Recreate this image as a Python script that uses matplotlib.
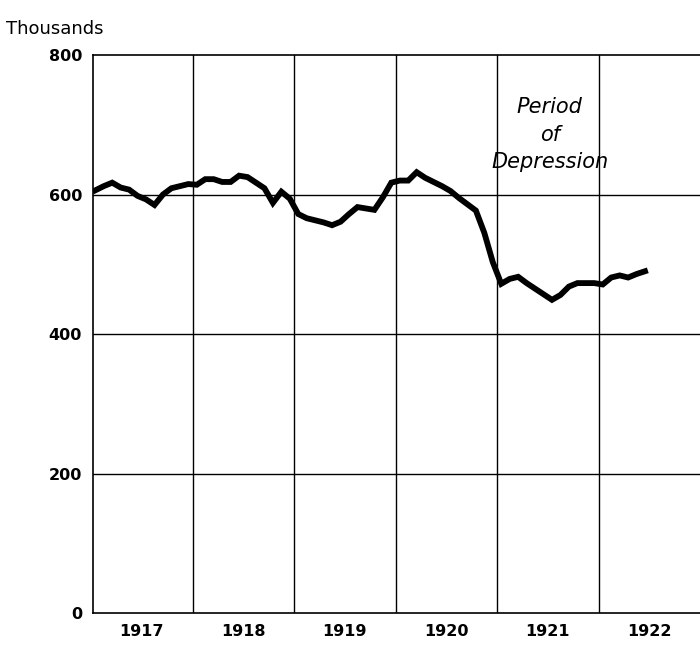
import matplotlib.pyplot as plt

# monthly values, Jan 1917 - Jun 1922 (thousands)
values = [606, 612, 617, 610, 607, 598, 593, 585, 600, 609, 612, 615,
          614, 622, 622, 618, 618, 627, 625, 617, 609, 588, 604, 594,
          572, 566, 563, 560, 556, 561, 572, 582, 580, 578, 596, 617,
          620, 620, 632, 624, 618, 612, 605, 595, 586, 577, 545, 503,
          472, 479, 482, 473, 465, 457, 449, 456, 468, 473, 473, 473,
          471, 481, 484, 481, 486, 490]
years = [1917, 1918, 1919, 1920, 1921, 1922]
yticks = [0, 200, 400, 600, 800]

t = [1917 + (i + 0.5) / 12 for i in range(len(values))]

fig = plt.figure(figsize=(7, 6.45), dpi=100)
ax = fig.add_axes([0.133, 0.0496, 0.867, 0.8651])

ax.plot(t, values, color='black', lw=4.2, solid_joinstyle='miter')

ax.set_xlim(1917.02, 1923.0)
ax.set_ylim(0, 800)
for y in yticks[1:4]:
    ax.axhline(y, color='black', lw=1)
for yr in years[1:]:
    ax.axvline(yr, color='black', lw=1)

ax.spines['right'].set_visible(False)
for s in ['left', 'bottom', 'top']:
    ax.spines[s].set_linewidth(1.2)

ax.set_yticks(yticks)
ax.set_yticklabels([str(v) for v in yticks], fontsize=11.5, fontweight='bold')
ax.set_xticks([y + 0.5 for y in years])
ax.set_xticklabels([str(y) for y in years], fontsize=11.5, fontweight='bold')
ax.tick_params(length=0, pad=8)

fig.text(0.008, 0.955, 'Thousands', fontsize=13, ha='left', va='center')
ax.text(1921.52, 686, 'Period\nof\nDepression', fontsize=15, style='italic',
        ha='center', va='center', linespacing=1.45)

fig.savefig('out.png')
